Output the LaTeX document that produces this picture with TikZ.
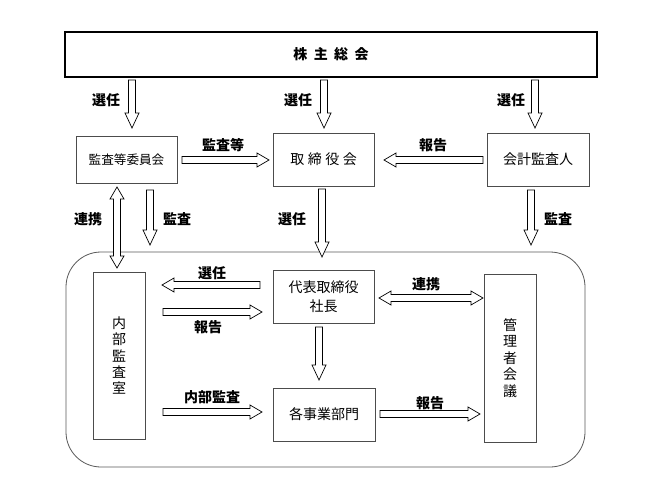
\documentclass[tikz,border=0pt]{standalone}
\usepackage{fontspec}
\setmainfont{Noto Sans CJK JP}
\usetikzlibrary{calc}
\tikzset{
  box/.style={draw=black!70, line width=0.7pt, fill=white, inner sep=0pt, align=center, font=\fontsize{14}{19}\selectfont},
  vbox/.style={box, font=\fontsize{14}{16.4}\selectfont},
  topbox/.style={draw=black, line width=1.8pt, fill=white, inner sep=0pt, font=\bfseries\fontsize{14}{16}\selectfont},
  lbl/.style={inner sep=0pt, font=\bfseries\fontsize{14}{16}\selectfont},
  arr/.style={draw=black, line width=0.7pt, fill=white, line join=miter},
  frame/.style={draw=black!65, line width=0.8pt, rounded corners=35pt}
}
% single block arrow: [head length]{start}{angle}{length}
\newcommand\blk[4][12]{\draw[arr, shift={(#2)}, rotate=#3]
  (0,-3.5) -- (#4-#1,-3.5) -- (#4-#1,-7) -- (#4,0) -- (#4-#1,7) -- (#4-#1,3.5) -- (0,3.5) -- cycle;}
% double block arrow
\newcommand\dblk[4][12]{\draw[arr, shift={(#2)}, rotate=#3]
  (#1,-3.5) -- (#4-#1,-3.5) -- (#4-#1,-7) -- (#4,0) -- (#4-#1,7) -- (#4-#1,3.5)
  -- (#1,3.5) -- (#1,7) -- (0,0) -- (#1,-7) -- cycle;}
\begin{document}
\begin{tikzpicture}[x=1pt,y=-1pt]
\useasboundingbox[fill=white] (0,0) rectangle (660,495);

% frame
\draw[frame] (66,252) rectangle (585,467);

% boxes
\node[topbox, minimum width=532, minimum height=45] (gm) at (331,54.5) {株\hspace{6.5pt}主\hspace{6.5pt}総\hspace{6.5pt}会};
\node[box, minimum width=101, minimum height=47, font=\fontsize{12.6}{15}\selectfont] (ac) at (126.5,159.5) {監査等委員会};
\node[box, minimum width=101, minimum height=53] (bd) at (323.5,159.5) {取\hspace{3.5pt}締\hspace{3.5pt}役\hspace{3.5pt}会};
\node[box, minimum width=102, minimum height=53] (au) at (538,159.5) {会計監査人};
\node[vbox, minimum width=52, minimum height=167] (ia) at (119,355.5) {内\\部\\監\\査\\室};
\node[box, minimum width=101, minimum height=53] (ceo) at (323.5,296.5) {代表取締役\\社長};
\node[box, minimum width=102, minimum height=53] (dp) at (324,414.5) {各事業部門};
\node[vbox, minimum width=52, minimum height=168] (mm) at (510,358) {管\\理\\者\\会\\議};

% arrow anchor coordinates
\coordinate (a1) at (132,80);
\coordinate (a2) at (324,80);
\coordinate (a3) at (535,80);
\coordinate (a4) at (182,160);
\coordinate (a5) at (483,160);
\coordinate (a6) at (117,187);
\coordinate (a7) at (150,190);
\coordinate (a8) at (322,189);
\coordinate (a9) at (531,190);
\coordinate (b1) at (260,285);
\coordinate (b2) at (163,312);
\coordinate (b3) at (163,412);
\coordinate (b4) at (319,327);
\coordinate (b5) at (379,298);
\coordinate (b6) at (380,414);

% arrows
\blk[15]{a1}{-90}{48}
\blk[15]{a2}{-90}{48}
\blk[15]{a3}{-90}{48}
\blk{a4}{0}{87}
\blk{a5}{180}{99}
\dblk[12]{a6}{-90}{81}
\blk[15]{a7}{-90}{55}
\blk[15]{a8}{-90}{68}
\blk[15]{a9}{-90}{55}
\blk{b1}{180}{98}
\blk{b2}{0}{99}
\blk{b3}{0}{99}
\blk[15]{b4}{-90}{53}
\dblk{b5}{0}{104}
\blk{b6}{0}{100}

% labels
\node[lbl] (l1) at (106,100) {選任};
\node[lbl] (l2) at (298,100) {選任};
\node[lbl] (l3) at (511,100) {選任};
\node[lbl] (l4) at (223,145) {監査等};
\node[lbl] (l5) at (433,145) {報告};
\node[lbl] (l6) at (88,219) {連携};
\node[lbl] (l7) at (177,219) {監査};
\node[lbl] (l8) at (292,219) {選任};
\node[lbl] (l9) at (558,219) {監査};
\node[lbl] (m1) at (212,273) {選任};
\node[lbl] (m2) at (208,327) {報告};
\node[lbl] (m3) at (212,397) {内部監査};
\node[lbl] (m4) at (426,284) {連携};
\node[lbl] (m5) at (430,403) {報告};
\end{tikzpicture}
\end{document}
